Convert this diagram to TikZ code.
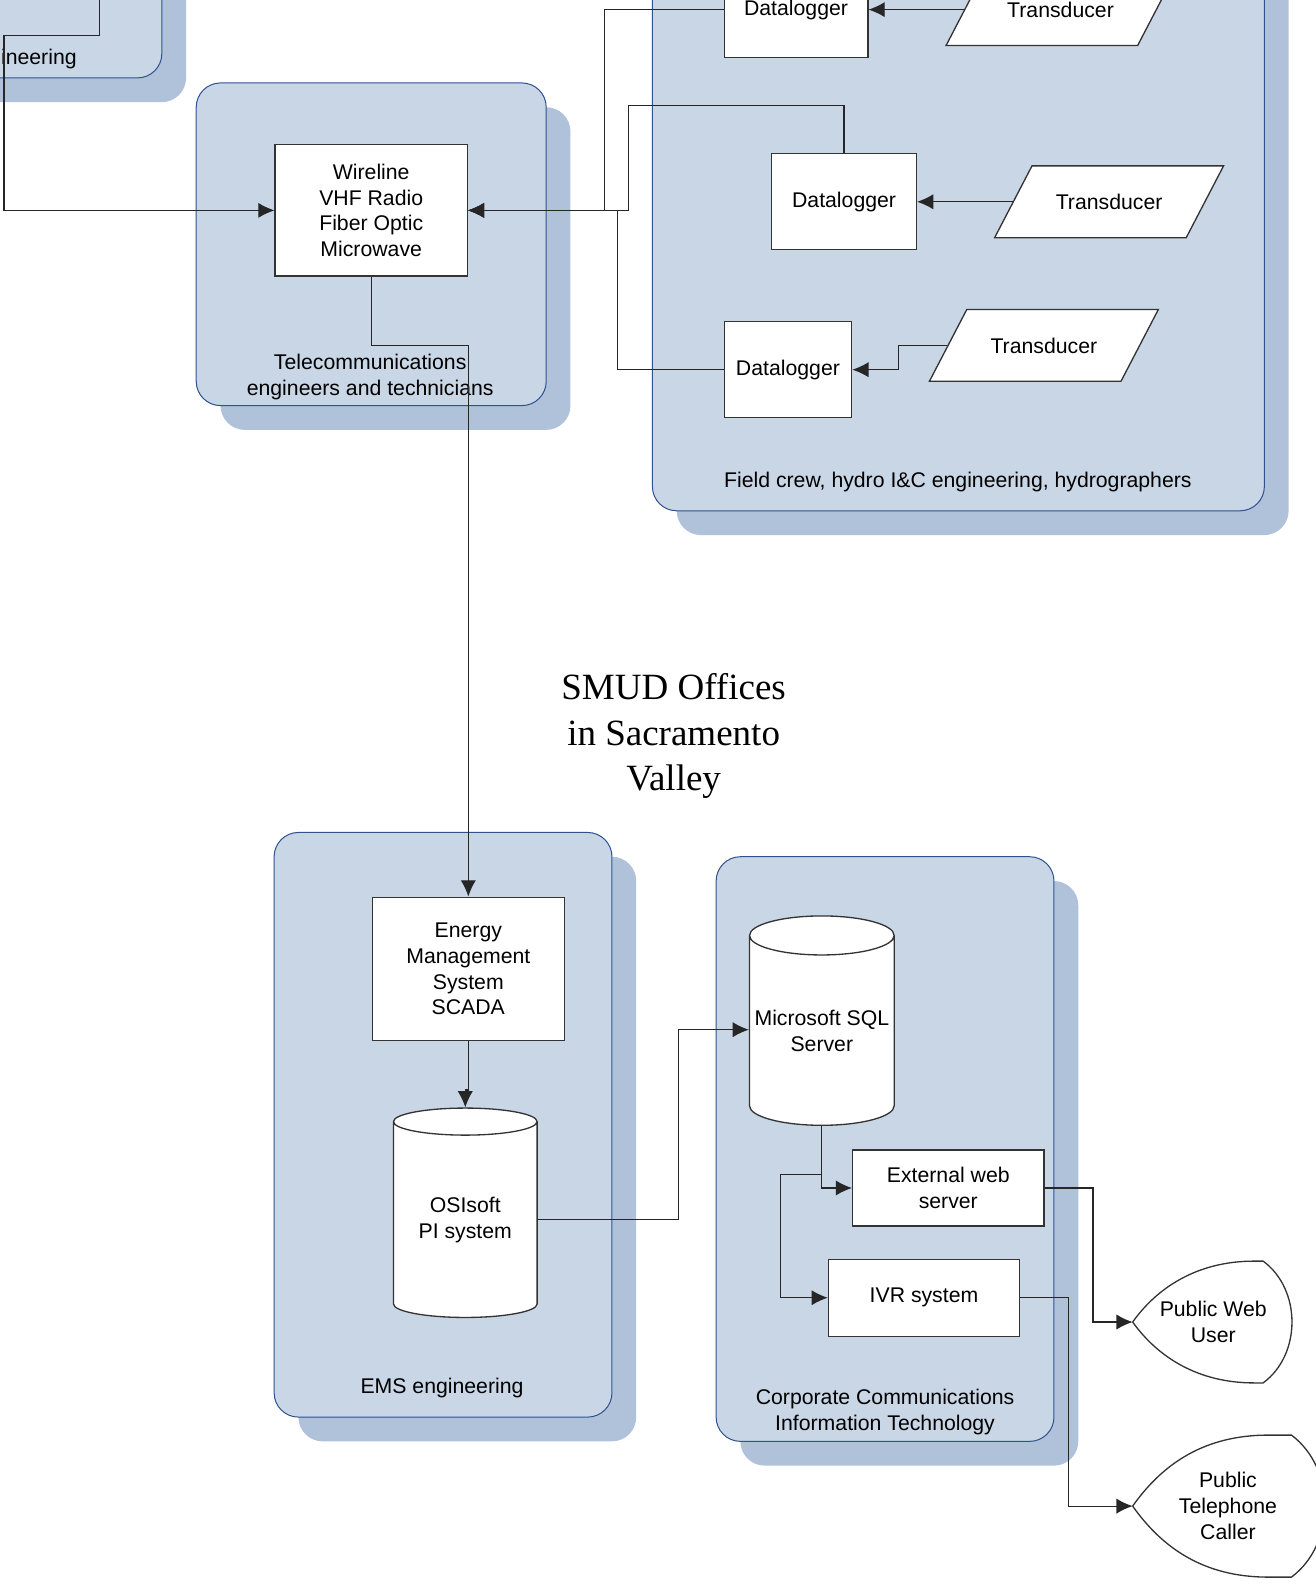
\documentclass[tikz,border=0pt]{standalone}
\usepackage{fontspec}
\setmainfont{Liberation Sans}
\newfontfamily\smudfont{Liberation Serif}
\usepackage{tikz}
\usetikzlibrary{%
  positioning
 ,arrows.meta
 ,calc
 ,shapes.geometric
}
\definecolor{grpfill}{HTML}{C9D6E6}
\definecolor{grpshade}{HTML}{B0C2DA}
\definecolor{grpedge}{HTML}{2F528F}
\definecolor{boxedge}{HTML}{333333}

\tikzstyle{grp}=[draw=grpedge,fill=grpfill,line width=1pt,rounded corners=24pt]
\tikzstyle{grpsh}=[fill=grpshade,rounded corners=24pt]
\tikzstyle{blk}=[draw=boxedge,fill=white,line width=1.3pt,inner sep=0pt,align=center]
\tikzstyle{tdc}=[trapezium,trapezium left angle=62.5,trapezium right angle=117.5,draw=boxedge,fill=white,line width=1.3pt,inner xsep=23.5pt,inner ysep=28pt,text height=15pt,text depth=0pt]
\tikzstyle{db}=[cylinder,shape border rotate=90,aspect=0.29,draw=boxedge,fill=white,line width=1.3pt,inner sep=0pt,align=center]
\tikzstyle{usr}=[inner sep=0pt,align=center]
\tikzstyle{outl}=[draw=boxedge,line width=1.3pt]
\tikzstyle{lnk}=[draw=black!85,line width=1.2pt,-{Latex[length=16pt,width=15pt]}]
\tikzstyle{lbl}=[align=center,inner sep=0pt]

\begin{document}
\begin{tikzpicture}[x=1pt,y=-1pt,font=\fontsize{21}{25.5}\selectfont]
  \useasboundingbox (0,0) rectangle (1301,1568);
  \clip (0,0) rectangle (1301,1568);
% groups
  \path[grpsh] (-376,-376) rectangle (184,101);
  \path[grp]   (-400,-400) rectangle (160,77);
  \path[grpsh] (218,106) rectangle (564,425);
  \path[grp]   (194,82) rectangle (540,401);
  \path[grpsh] (669,-376) rectangle (1274,529);
  \path[grp]   (645,-400) rectangle (1250,505);
  \path[grpsh] (295,847) rectangle (629,1425);
  \path[grp]   (271,823) rectangle (605,1401);
  \path[grpsh] (732,871) rectangle (1066,1449);
  \path[grp]   (708,847) rectangle (1042,1425);
% field side
  \node[lbl,anchor=east] (hydlbl) at (76,58) {ineering};
  \node[blk,minimum width=190pt,minimum height=130pt] (wire) at (367,208) {Wireline\\VHF Radio\\Fiber Optic\\Microwave};
  \node[lbl] (tellbl) at (366,373) {Telecommunications\\engineers and technicians};
  \node[blk,minimum width=142pt,minimum height=95pt] (dl1) at (787,9.5) {Datalogger};
  \node[blk,minimum width=143pt,minimum height=95pt] (dl2) at (834.5,199.5) {Datalogger};
  \node[blk,minimum width=126pt,minimum height=95pt] (dl3) at (779,365.5) {Datalogger};
  \node[tdc] (td1) at (1048.5,9.5) {Transducer};
  \node[tdc] (td2) at (1096.5,199.5) {Transducer};
  \node[tdc] (td3) at (1032,341.5) {Transducer};
  \node[lbl] (fldlbl) at (947,477) {Field crew, hydro I\&C engineering, hydrographers};
% offices
  \node[lbl,font=\smudfont\fontsize{36.6}{45}\selectfont] (smud) at (666,728) {SMUD Offices\\in Sacramento\\Valley};
  \node[blk,minimum width=190pt,minimum height=142pt] (ems) at (463,958) {Energy\\Management\\System\\SCADA};
  \node[db,minimum width=142pt,minimum height=207pt] (osi) at (460,1206) {OSIsoft\\PI system};
  \node[lbl] (emslbl) at (437,1372) {EMS engineering};
  \node[db,minimum width=143pt,minimum height=207pt] (sql) at (812.5,1019) {Microsoft SQL\\Server};
  \node[blk,minimum width=189pt,minimum height=75pt] (ext) at (937.5,1174.5) {External web\\server};
  \node[blk,minimum width=189pt,minimum height=76pt] (ivr) at (913.5,1283) {IVR system};
  \node[lbl] (corplbl) at (875,1396) {Corporate Communications\\Information Technology};
  \node[usr,minimum width=159pt,minimum height=120pt] (pwu) at (1199.5,1307) {Public Web\\User};
  \node[usr,minimum width=188pt,minimum height=140pt] (ptc) at (1214,1489) {Public\\Telephone\\Caller};
  \path[outl] (pwu.west) .. controls +(25,-35) and +(-55,0) .. ([xshift=120pt]pwu.north west) -- ++(9,0)
    .. controls +(38,28) and +(38,-28) .. ([xshift=129pt]pwu.south west) -- ++(-9,0)
    .. controls +(-55,0) and +(25,35) .. (pwu.west);
  \path[outl] (ptc.west) .. controls +(29,-41) and +(-64,0) .. ([xshift=134pt]ptc.north west) -- ++(23,0)
    .. controls +(44,33) and +(44,-33) .. ([xshift=157pt]ptc.south west) -- ++(-23,0)
    .. controls +(-64,0) and +(29,41) .. (ptc.west);
% links
  \coordinate (tlsrc) at (98,-20);
  \coordinate (tlbend) at (4,35);
  \path[lnk] (tlsrc) |- (tlbend) |- (wire.west);
  \path[lnk] (dl1.west) -- ++(-118,0) |- (wire.east);
  \path[lnk] (dl2.north) -- ++(0,-47) -- ++(-213.5,0) |- (wire.east);
  \path[lnk] (dl3.west) -- ++(-105,0) |- (wire.east);
  \path[lnk] (td1.left side) -- (dl1.east);
  \path[lnk] (td2.left side) -- (dl2.east);
  \path[lnk] (td3.left side) -- ++(-48.5,0) |- (dl3.east);
  \path[lnk] (wire.south) -- ++(0,68) -| (ems.north);
  \path[lnk] (ems.south) -- ++(0,48) -| (osi.north);
  \path[lnk] ([yshift=0pt]osi.east) -- ++(139,0) |- ([yshift=1pt]sql.west);
  \path[lnk] (sql.south) |- (ext.west);
  \path[lnk] (sql.south) -- ++(0,48) -- ++(-40.5,0) |- (ivr.west);
  \path[lnk] (ext.east) -- ++(48,0) |- (pwu.west);
  \path[lnk] (ivr.east) -- ++(48,0) |- (ptc.west);
\end{tikzpicture}
\end{document}
